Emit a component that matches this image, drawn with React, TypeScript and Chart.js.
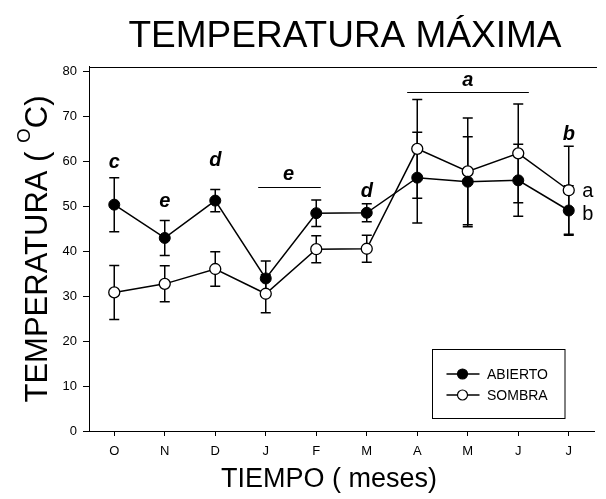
import React, { useEffect, useRef } from 'react';
import { Chart, registerables } from 'chart.js';

Chart.register(...registerables);

const months = ['O', 'N', 'D', 'J', 'F', 'M', 'A', 'M', 'J', 'J'];
const yTicks = [0, 10, 20, 30, 40, 50, 60, 70, 80];

const abierto = [50.3, 42.9, 51.2, 33.9, 48.4, 48.5, 56.3, 55.4, 55.7, 49.0];
const abiertoErr = [6.0, 3.9, 2.45, 3.9, 2.95, 2.0, 10.1, 10.0, 8.0, 5.5];
const sombra = [30.8, 32.7, 36.0, 30.5, 40.4, 40.5, 62.7, 57.7, 61.7, 53.5];
const sombraErr = [6.0, 4.0, 3.85, 4.2, 3.0, 3.0, 10.95, 11.85, 10.95, 9.8];

// significance letters (category index, baseline value)
const letterText = ['c', 'e', 'd', 'e', 'd', 'a', 'b'];
const letterIdx = [0, 1, 2, 3.45, 5, 7, 9];
const letterVal = [58.4, 49.8, 58.8, 55.7, 52.0, 76.6, 64.7];

// group brackets
const bracketFrom = [2.85, 5.8];
const bracketTo = [4.09, 8.21];
const bracketVal = [54.2, 75.4];

// series letters at the right
const seriesLetterText = ['a', 'b'];
const seriesLetterVal = [52.1, 47.0];

const FONT = '"Liberation Sans", Arial, Helvetica, sans-serif';

export default function App() {
  const ref = useRef<HTMLCanvasElement>(null);

  useEffect(() => {
    const canvas = ref.current!;
    const errMap = [abiertoErr, sombraErr];

    const decor = {
      id: 'decor',
      beforeDatasetsDraw(chart: any) {
        const ctx = chart.ctx;
        const ys = chart.scales.y;
        ctx.save();
        ctx.strokeStyle = '#000';
        ctx.lineWidth = 1.5;
        chart.data.datasets.forEach((ds: any, di: number) => {
          const meta = chart.getDatasetMeta(di);
          const errs = errMap[di];
          meta.data.forEach((pt: any, i: number) => {
            const v = ds.data[i];
            const e = errs[i];
            const x = pt.x;
            const yt = ys.getPixelForValue(v + e);
            const yb = ys.getPixelForValue(v - e);
            ctx.beginPath();
            ctx.moveTo(x, yt);
            ctx.lineTo(x, yb);
            ctx.moveTo(x - 5, yt);
            ctx.lineTo(x + 5, yt);
            ctx.moveTo(x - 5, yb);
            ctx.lineTo(x + 5, yb);
            ctx.stroke();
          });
        });
        ctx.restore();
      },
      afterDraw(chart: any) {
        const ctx = chart.ctx;
        const xs = chart.scales.x;
        const ys = chart.scales.y;
        const area = chart.chartArea;
        ctx.save();
        // top frame line
        ctx.strokeStyle = '#000';
        ctx.lineWidth = 1;
        ctx.beginPath();
        ctx.moveTo(area.left, Math.round(area.top) + 0.5);
        ctx.lineTo(area.right + 3, Math.round(area.top) + 0.5);
        ctx.stroke();

        // brackets
        ctx.lineWidth = 1.2;
        bracketFrom.forEach((f, i) => {
          const y = Math.round(ys.getPixelForValue(bracketVal[i])) + 0.5;
          ctx.beginPath();
          ctx.moveTo(xs.getPixelForValue(f), y);
          ctx.lineTo(xs.getPixelForValue(bracketTo[i]), y);
          ctx.stroke();
        });

        // letters
        ctx.fillStyle = '#000';
        ctx.textAlign = 'center';
        ctx.textBaseline = 'alphabetic';
        ctx.font = `italic bold 20px ${FONT}`;
        letterText.forEach((t, i) => {
          ctx.fillText(t, xs.getPixelForValue(letterIdx[i]), ys.getPixelForValue(letterVal[i]));
        });
        ctx.font = `20px ${FONT}`;
        seriesLetterText.forEach((t, i) => {
          ctx.fillText(t, xs.getPixelForValue(9) + 19, ys.getPixelForValue(seriesLetterVal[i]));
        });

        // title
        ctx.font = `37px ${FONT}`;
        ctx.fillText('TEMPERATURA MÁXIMA', 345, 46.5);

        // x title
        ctx.font = `27px ${FONT}`;
        ctx.fillText('TIEMPO ( meses)', 329, 487);

        // y title (rotated, with superscript O)
        ctx.save();
        ctx.translate(47, 249);
        ctx.rotate(-Math.PI / 2);
        const big = `31px ${FONT}`;
        const small = `19px ${FONT}`;
        const p1 = 'TEMPERATURA ( ';
        const p2 = 'O';
        const p3 = 'C)';
        ctx.font = big;
        const w1 = ctx.measureText(p1).width;
        const w3 = ctx.measureText(p3).width;
        ctx.font = small;
        const w2 = ctx.measureText(p2).width;
        const total = w1 + w2 + w3;
        const x0 = -total / 2;
        ctx.textAlign = 'left';
        ctx.font = big;
        ctx.fillText(p1, x0, 0);
        ctx.font = small;
        ctx.fillText(p2, x0 + w1, -17);
        ctx.font = big;
        ctx.fillText(p3, x0 + w1 + w2, 0);
        ctx.restore();

        // legend
        const bx = 432.5, by = 349.5, bw = 132.5, bh = 69;
        ctx.lineWidth = 1;
        ctx.strokeStyle = '#000';
        ctx.strokeRect(bx, by, bw, bh);
        const rows = [374, 395];
        ctx.font = `14px ${FONT}`;
        ctx.textAlign = 'left';
        ctx.textBaseline = 'middle';
        chart.data.datasets.forEach((ds: any, i: number) => {
          const yy = rows[i];
          ctx.lineWidth = 1.5;
          ctx.beginPath();
          ctx.moveTo(446.5, yy);
          ctx.lineTo(479.5, yy);
          ctx.stroke();
          ctx.beginPath();
          ctx.arc(462.5, yy, 5, 0, Math.PI * 2);
          ctx.fillStyle = ds.pointBackgroundColor;
          ctx.fill();
          ctx.lineWidth = 1.2;
          ctx.stroke();
          ctx.fillStyle = '#000';
          ctx.fillText(ds.label, 487, yy + 1);
        });
        ctx.restore();
      },
    };

    const chart = new Chart(canvas, {
      type: 'line',
      data: {
        labels: months,
        datasets: [
          {
            label: 'ABIERTO',
            data: abierto,
            borderColor: '#000',
            borderWidth: 1.5,
            backgroundColor: '#000',
            pointRadius: 5.5,
            pointBackgroundColor: '#000',
            pointBorderColor: '#000',
            pointBorderWidth: 1,
            tension: 0,
            fill: false,
          },
          {
            label: 'SOMBRA',
            data: sombra,
            borderColor: '#000',
            borderWidth: 1.5,
            backgroundColor: '#fff',
            pointRadius: 5.5,
            pointBackgroundColor: '#fff',
            pointBorderColor: '#000',
            pointBorderWidth: 1.3,
            tension: 0,
            fill: false,
          },
        ],
      },
      options: {
        responsive: false,
        animation: false,
        events: [],
        layout: { padding: { top: 66.5, right: 12, left: 0, bottom: 0 } },
        plugins: {
          legend: { display: false },
          tooltip: { enabled: false },
          title: { display: false },
        },
        scales: {
          x: {
            type: 'category',
            offset: true,
            grid: {
              offset: false,
              drawOnChartArea: false,
              drawTicks: true,
              tickLength: 5,
              color: '#000',
              lineWidth: 1,
            },
            border: { display: true, color: '#000', width: 1 },
            ticks: {
              color: '#000',
              font: { family: FONT, size: 13 },
              padding: 8,
              maxRotation: 0,
              autoSkip: false,
            },
            afterFit: (s: any) => {
              s.height = 68;
            },
          },
          y: {
            min: 0,
            max: 81,
            grid: {
              drawOnChartArea: false,
              drawTicks: true,
              tickLength: 6,
              color: '#000',
              lineWidth: 1,
            },
            border: { display: true, color: '#000', width: 1 },
            ticks: {
              color: '#000',
              font: { family: FONT, size: 13 },
              padding: 6,
            },
            afterBuildTicks: (s: any) => {
              s.ticks = yTicks.map((v) => ({ value: v }));
            },
            afterFit: (s: any) => {
              s.width = 89;
            },
          },
        },
      },
      plugins: [decor],
    } as any);

    return () => chart.destroy();
  }, []);

  return (
    <div style={{ position: 'fixed', left: 0, top: 0, width: 606, height: 499, background: '#fff' }}>
      <canvas ref={ref} width={606} height={499} style={{ display: 'block', width: 606, height: 499 }} />
    </div>
  );
}
